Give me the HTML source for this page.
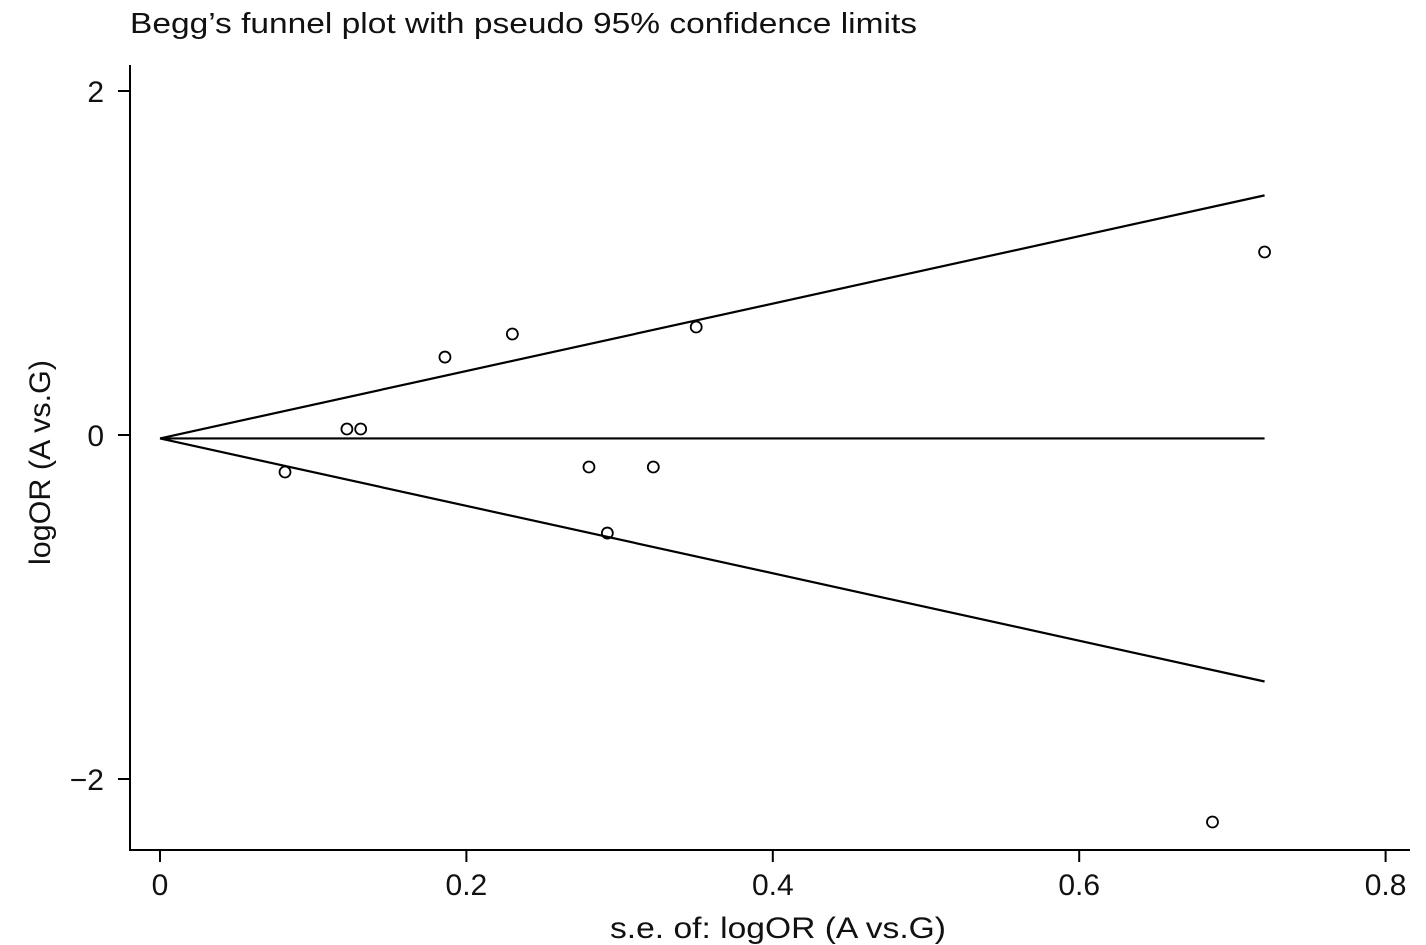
<!DOCTYPE html>
<html><head><meta charset="utf-8"><style>
html,body{margin:0;padding:0;background:#fff;}
svg{display:block;font-family:"Liberation Sans",Arial,sans-serif;}
</style></head><body>
<svg id="chart" width="1426" height="945">
<text x="130" y="33" font-size="29" textLength="787" lengthAdjust="spacingAndGlyphs" fill="#111">Begg’s funnel plot with pseudo 95% confidence limits</text>
<g id="axes"></g>
<g id="marks"></g>
</svg>
<script>
const seValues=[0.0816,0.122,0.131,0.186,0.230,0.280,0.292,0.322,0.350,0.721,0.687];
const logOrValues=[-0.215,0.035,0.035,0.453,0.587,-0.186,-0.570,-0.186,0.628,1.064,-2.25];
const xTicks=[0,0.2,0.4,0.6,0.8];
const xTickLabels=["0","0.2","0.4","0.6","0.8"];
const yTicks=[2,0,-2];
const yTickLabels=["2","0","\u22122"];
const pooledEstimate=-0.02;
const maxSe=0.721;

const NS="http://www.w3.org/2000/svg";
const xs=v=>160+v*1532;
const ys=v=>435-v*172;
function mk(tag,attrs,parent){const e=document.createElementNS(NS,tag);for(const k in attrs)e.setAttribute(k,attrs[k]);parent.appendChild(e);return e;}
const axes=document.getElementById('axes'),marks=document.getElementById('marks');
let el=mk('line',{x1:130,y1:65,x2:130,y2:850,stroke:'#000','stroke-width':2},axes);


el=mk('line',{x1:129,y1:850,x2:1410,y2:850,stroke:'#000','stroke-width':2},axes);


xTicks.forEach((t,i)=>{
  el=mk('line',{x1:xs(t),y1:850,x2:xs(t),y2:862,stroke:'#000','stroke-width':2},axes);
  
  
  el=mk('text',{x:xs(t),y:895,'font-size':30,'text-anchor':'middle',fill:'#111'},axes);
  el.textContent=xTickLabels[i];
  
  
});
yTicks.forEach((t,i)=>{
  el=mk('line',{x1:118,y1:ys(t),x2:130,y2:ys(t),stroke:'#000','stroke-width':2},axes);
  
  
  el=mk('text',{x:104,y:ys(t)+11,'font-size':30,'text-anchor':'end',fill:'#111'},axes);
  el.textContent=yTickLabels[i];
  
  
});
el=mk('text',{x:610,y:938,'font-size':30,textLength:336,lengthAdjust:'spacingAndGlyphs',fill:'#111'},axes);
el.textContent='s.e. of: logOR (A vs.G)';


el=mk('text',{x:0,y:0,'font-size':30,textLength:205,lengthAdjust:'spacingAndGlyphs',fill:'#111',transform:'translate(50,565) rotate(-90)'},axes);
el.textContent='logOR (A vs.G)';


el=mk('line',{x1:xs(0),y1:ys(pooledEstimate),x2:xs(maxSe),y2:ys(pooledEstimate),stroke:'#000','stroke-width':2.2},marks);


el=mk('line',{x1:xs(0),y1:ys(pooledEstimate),x2:xs(maxSe),y2:ys(pooledEstimate+1.96*maxSe),stroke:'#000','stroke-width':2.2},marks);


el=mk('line',{x1:xs(0),y1:ys(pooledEstimate),x2:xs(maxSe),y2:ys(pooledEstimate-1.96*maxSe),stroke:'#000','stroke-width':2.2},marks);


seValues.forEach((s,i)=>{
  el=mk('circle',{cx:xs(s),cy:ys(logOrValues[i]),r:5.5,fill:'none',stroke:'#000','stroke-width':1.8},marks);
  
  
});
</script>
</body></html>
